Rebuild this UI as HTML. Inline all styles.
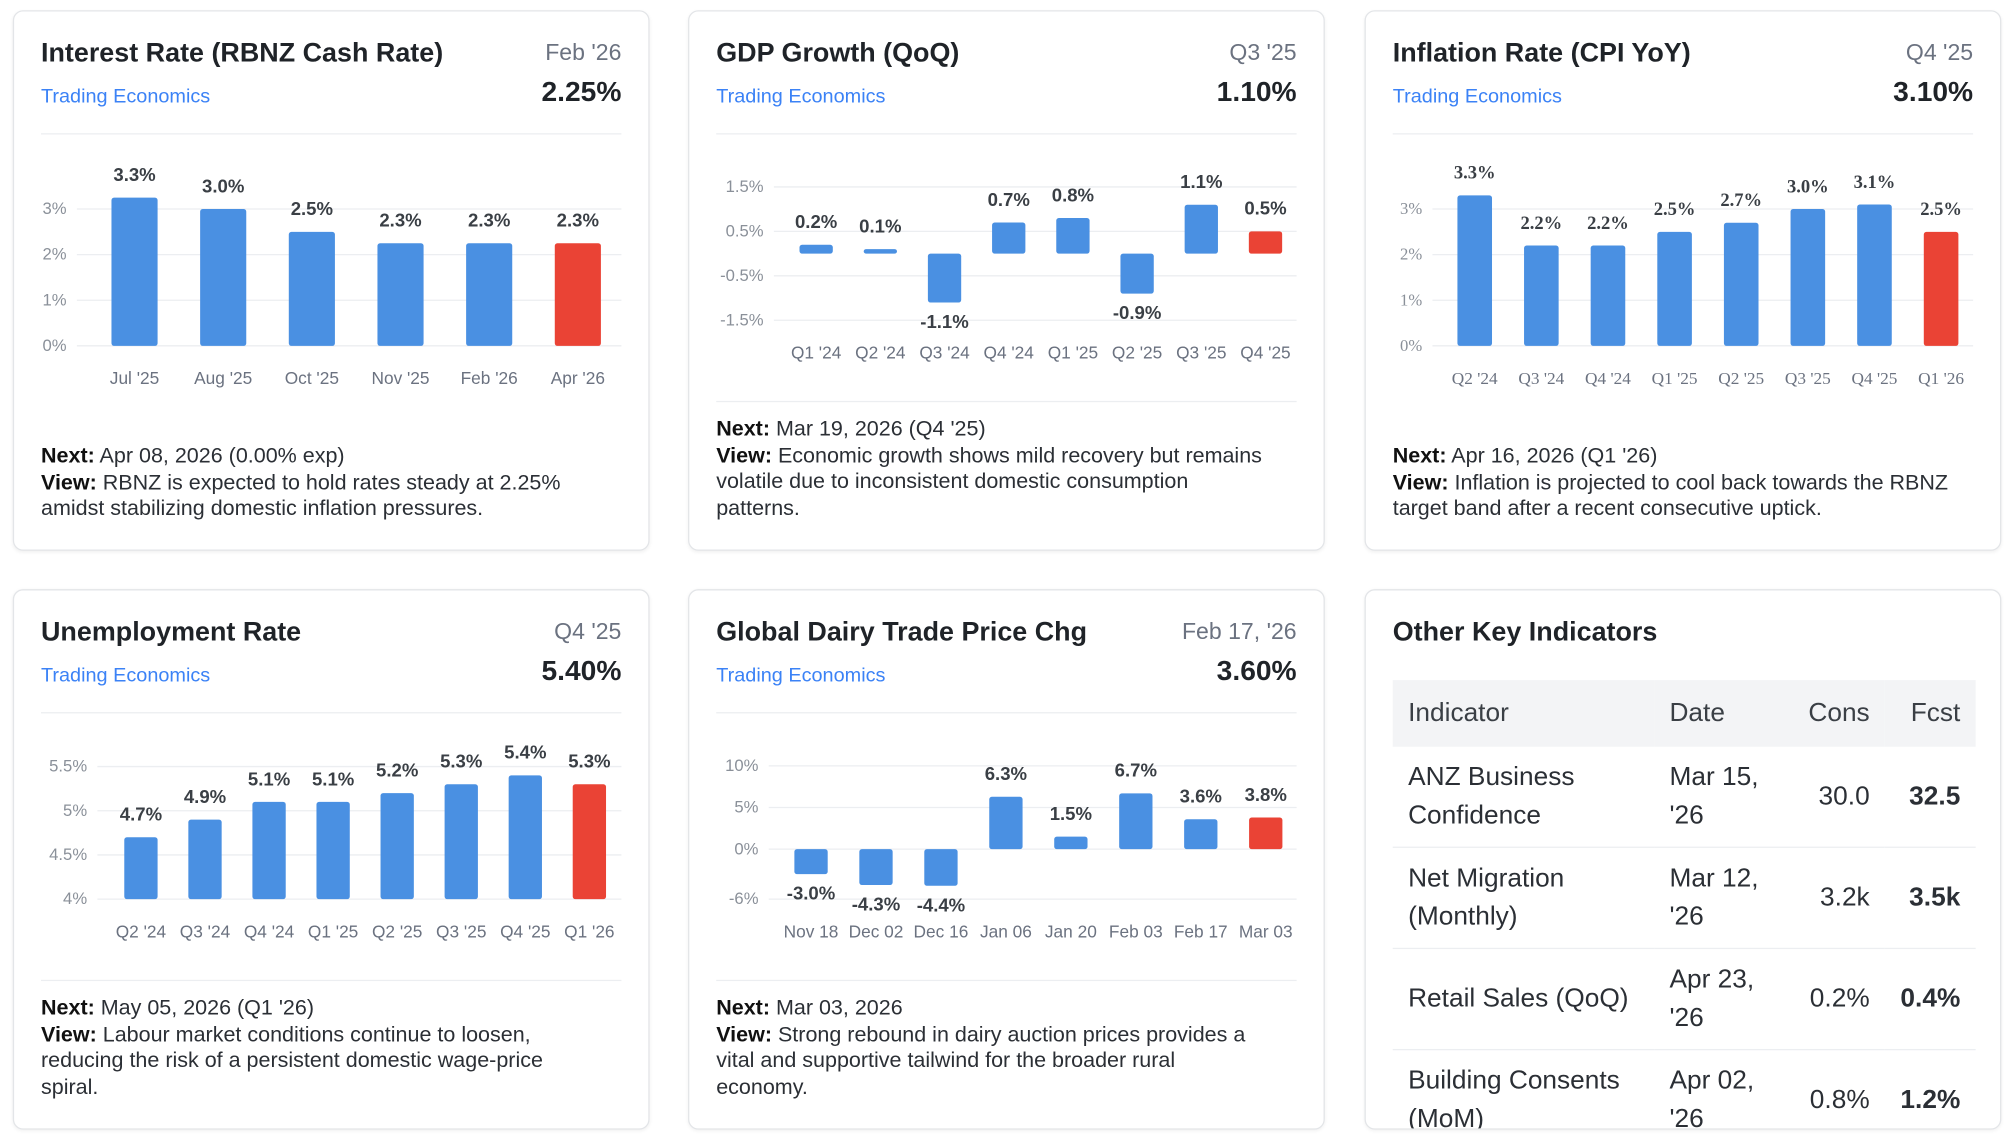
<!DOCTYPE html>
<html><head><meta charset="utf-8">
<style>
html,body{margin:0;padding:0;background:#fff;}
body{width:2009px;height:1145px;overflow:hidden;font-family:"Liberation Sans",sans-serif;color:#1f2328;}
#wrap{position:absolute;left:0;top:0;width:1568px;height:894px;transform:scale(1.28125,1.2808);transform-origin:0 0;}
.card{position:absolute;width:497px;height:422px;border:1px solid #e3e5e8;border-radius:8px;background:#fff;box-shadow:0 1px 3px rgba(0,0,0,0.06);box-sizing:border-box;overflow:hidden;}
.title{position:absolute;left:21px;top:21px;font-size:21px;font-weight:bold;color:#1f2328;}
.date{position:absolute;right:21px;top:22px;font-size:18px;color:#6b7280;}
.src{position:absolute;left:21px;top:58px;font-size:15.5px;color:#3b82f6;}
.val{position:absolute;right:21px;top:50px;font-size:22px;font-weight:bold;color:#1f2328;}
.div{position:absolute;left:21px;right:21px;top:95px;border-top:1px solid #eceef1;}
.foot{position:absolute;left:21px;right:10px;font-size:16.8px;line-height:20.5px;color:#2b2f35;white-space:nowrap;}
.foot b{color:#111;}
table{position:absolute;left:21px;top:70px;width:455px;border-collapse:collapse;font-size:20.5px;color:#2b2f35;}
th{background:#f3f4f6;font-weight:normal;color:#3a3f45;height:52px;text-align:left;padding:0 12px;}
td{padding:0 12px;border-bottom:1px solid #eceef1;height:78px;line-height:30px;}
.r{text-align:right;}
#charts{position:absolute;left:0;top:0;}
</style></head><body>
<div id="wrap">
<div class="card" style="left:10px;top:8px;">
 <div class="title">Interest Rate (RBNZ Cash Rate)</div>
 <div class="date">Feb '26</div>
 <div class="src">Trading Economics</div>
 <div class="val">2.25%</div>
 <div class="div"></div>
 <div class="foot" style="top:337px"><b>Next:</b> Apr 08, 2026 (0.00% exp)<br><b>View:</b> RBNZ is expected to hold rates steady at 2.25%<br>amidst stabilizing domestic inflation pressures.</div>
</div>
<div class="card" style="left:537px;top:8px;">
 <div class="title">GDP Growth (QoQ)</div>
 <div class="date">Q3 '25</div>
 <div class="src">Trading Economics</div>
 <div class="val">1.10%</div>
 <div class="div"></div>
 <div class="div" style="top:304px"></div>
 <div class="foot" style="top:316px"><b>Next:</b> Mar 19, 2026 (Q4 '25)<br><b>View:</b> Economic growth shows mild recovery but remains<br>volatile due to inconsistent domestic consumption<br>patterns.</div>
</div>
<div class="card" style="left:1065px;top:8px;">
 <div class="title">Inflation Rate (CPI YoY)</div>
 <div class="date">Q4 '25</div>
 <div class="src">Trading Economics</div>
 <div class="val">3.10%</div>
 <div class="div"></div>
 <div class="foot" style="top:337px"><b>Next:</b> Apr 16, 2026 (Q1 '26)<br><b>View:</b> Inflation is projected to cool back towards the RBNZ<br>target band after a recent consecutive uptick.</div>
</div>
<div class="card" style="left:10px;top:460px;">
 <div class="title">Unemployment Rate</div>
 <div class="date">Q4 '25</div>
 <div class="src">Trading Economics</div>
 <div class="val">5.40%</div>
 <div class="div"></div>
 <div class="div" style="top:304px"></div>
 <div class="foot" style="top:316px"><b>Next:</b> May 05, 2026 (Q1 '26)<br><b>View:</b> Labour market conditions continue to loosen,<br>reducing the risk of a persistent domestic wage-price<br>spiral.</div>
</div>
<div class="card" style="left:537px;top:460px;">
 <div class="title">Global Dairy Trade Price Chg</div>
 <div class="date">Feb 17, '26</div>
 <div class="src">Trading Economics</div>
 <div class="val">3.60%</div>
 <div class="div"></div>
 <div class="div" style="top:304px"></div>
 <div class="foot" style="top:316px"><b>Next:</b> Mar 03, 2026<br><b>View:</b> Strong rebound in dairy auction prices provides a<br>vital and supportive tailwind for the broader rural<br>economy.</div>
</div>
<div class="card" style="left:1065px;top:460px;">
 <div class="title">Other Key Indicators</div>
 <table>
  <tr><th style="width:180px">Indicator</th><th>Date</th><th class="r">Cons</th><th class="r">Fcst</th></tr>
  <tr><td>ANZ Business Confidence</td><td>Mar 15, '26</td><td class="r">30.0</td><td class="r"><b>32.5</b></td></tr>
  <tr><td>Net Migration (Monthly)</td><td>Mar 12, '26</td><td class="r">3.2k</td><td class="r"><b>3.5k</b></td></tr>
  <tr><td>Retail Sales (QoQ)</td><td>Apr 23, '26</td><td class="r">0.2%</td><td class="r"><b>0.4%</b></td></tr>
  <tr><td>Building Consents (MoM)</td><td>Apr 02, '26</td><td class="r">0.8%</td><td class="r"><b>1.2%</b></td></tr>
 </table>
</div>
<svg id="charts" width="1568" height="894"></svg>
</div>
<script>
// Interest rate
const irCats=["Jul '25","Aug '25","Oct '25","Nov '25","Feb '26","Apr '26"];
const irVals=[3.25,3.0,2.5,2.25,2.25,2.25];
const irLabels=["3.3%","3.0%","2.5%","2.3%","2.3%","2.3%"];
const irTicks=[0,1,2,3];
const irTickLabels=["0%","1%","2%","3%"];
// GDP
const gdpCats=["Q1 '24","Q2 '24","Q3 '24","Q4 '24","Q1 '25","Q2 '25","Q3 '25","Q4 '25"];
const gdpVals=[0.2,0.1,-1.1,0.7,0.8,-0.9,1.1,0.5];
const gdpLabels=["0.2%","0.1%","-1.1%","0.7%","0.8%","-0.9%","1.1%","0.5%"];
const gdpTicks=[1.5,0.5,-0.5,-1.5];
const gdpTickLabels=["1.5%","0.5%","-0.5%","-1.5%"];
// Inflation
const cpiCats=["Q2 '24","Q3 '24","Q4 '24","Q1 '25","Q2 '25","Q3 '25","Q4 '25","Q1 '26"];
const cpiVals=[3.3,2.2,2.2,2.5,2.7,3.0,3.1,2.5];
const cpiLabels=["3.3%","2.2%","2.2%","2.5%","2.7%","3.0%","3.1%","2.5%"];
const cpiTicks=[0,1,2,3];
const cpiTickLabels=["0%","1%","2%","3%"];
// Unemployment
const unCats=["Q2 '24","Q3 '24","Q4 '24","Q1 '25","Q2 '25","Q3 '25","Q4 '25","Q1 '26"];
const unVals=[4.7,4.9,5.1,5.1,5.2,5.3,5.4,5.3];
const unLabels=["4.7%","4.9%","5.1%","5.1%","5.2%","5.3%","5.4%","5.3%"];
const unTicks=[4,4.5,5,5.5];
const unTickLabels=["4%","4.5%","5%","5.5%"];
// Dairy
const gdtCats=["Nov 18","Dec 02","Dec 16","Jan 06","Jan 20","Feb 03","Feb 17","Mar 03"];
const gdtVals=[-3.0,-4.3,-4.4,6.3,1.5,6.7,3.6,3.8];
const gdtLabels=["-3.0%","-4.3%","-4.4%","6.3%","1.5%","6.7%","3.6%","3.8%"];
const gdtTicks=[-6,0,5,10];
const gdtTickLabels=["-6%","0%","5%","10%"];

const NS="http://www.w3.org/2000/svg";
const svg=document.getElementById('charts');
function mk(tag,attrs,text){const e=document.createElementNS(NS,tag);for(const k in attrs)e.setAttribute(k,attrs[k]);if(text!==undefined)e.textContent=text;svg.appendChild(e);return e;}
function chart(o,cats,vals,labels,ticks,tickLabels){
  const font=o.serif?'"Liberation Serif",serif':'"Liberation Sans",sans-serif';
  const y=v=>o.y0-(v-o.base)*o.ppu;
  const x=i=>o.x0+i*o.step;
  ticks.forEach((t,i)=>{
    const g=mk('line',{x1:o.gx1,x2:o.gx2,y1:y(t),y2:y(t),stroke:'#eceef1','stroke-width':1});
    
    
    const tl=mk('text',{x:o.gx1-8,y:y(t)+4,'text-anchor':'end','font-size':13,fill:'#8a9099','font-family':font},tickLabels[i]);
    
    
  });
  const zero=y(o.zeroV);
  vals.forEach((v,i)=>{
    const top=Math.min(y(v),zero),h=Math.abs(y(v)-zero);
    const last=i===vals.length-1;
    const b=mk('rect',{x:x(i)-o.bw/2,y:top,width:o.bw,height:Math.max(h,1),rx:2,fill:last?'#ea4335':'#4a90e2'});
    
    
    const ly=v>=0?y(v)-13:y(v)+20;
    const l=mk('text',{x:x(i),y:ly,'text-anchor':'middle','font-size':14.5,'font-weight':'bold',fill:'#3a3f45','font-family':font},labels[i]);
    
    
    const c=mk('text',{x:x(i),y:o.ly,'text-anchor':'middle','font-size':13.5,fill:'#6b7280','font-family':font},cats[i]);
    
    
  });
}
chart({x0:105,step:69.2,bw:36,y0:270,base:0,ppu:35.6,zeroV:0,gx1:60,gx2:485,ly:300},irCats,irVals,irLabels,irTicks,irTickLabels);
chart({x0:637,step:50.1,bw:26,y0:198,base:0,ppu:34.7,zeroV:0,gx1:604,gx2:1012,ly:280},gdpCats,gdpVals,gdpLabels,gdpTicks,gdpTickLabels);
chart({x0:1151,step:52,bw:27,y0:270,base:0,ppu:35.6,zeroV:0,gx1:1118,gx2:1540,ly:300,serif:true},cpiCats,cpiVals,cpiLabels,cpiTicks,cpiTickLabels);
chart({x0:110,step:50,bw:26,y0:702,base:4,ppu:69,zeroV:4,gx1:76,gx2:485,ly:732},unCats,unVals,unLabels,unTicks,unTickLabels);
chart({x0:633,step:50.7,bw:26,y0:663,base:0,ppu:6.5,zeroV:0,gx1:600,gx2:1012,ly:732},gdtCats,gdtVals,gdtLabels,gdtTicks,gdtTickLabels);
</script>
</body></html>
